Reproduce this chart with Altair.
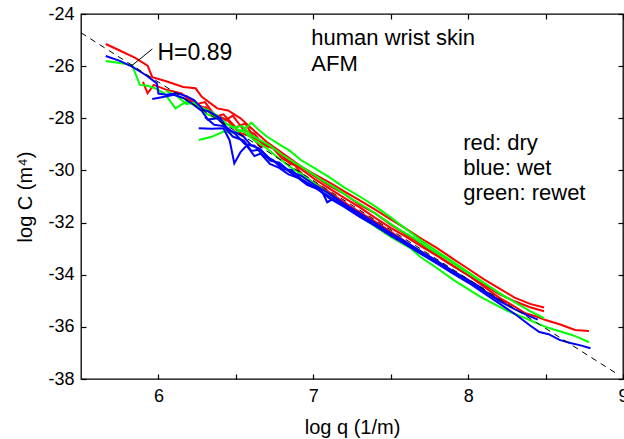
import altair as alt
import pandas as pd

# ---------------- data ----------------
R1_x = [5.66, 5.75, 5.85, 5.93, 5.96, 6.05, 6.16, 6.24, 6.28, 6.38, 6.45, 6.53, 6.6, 6.7, 6.8, 6.9, 7.0, 7.1, 7.2, 7.3, 7.4, 7.5, 7.6, 7.7, 7.8, 7.9, 8.0, 8.1, 8.2, 8.3, 8.37, 8.45, 8.5, 8.6, 8.69, 8.78]
R1_y = [-25.15, -25.40, -25.68, -25.98, -26.42, -26.58, -26.80, -26.85, -27.18, -27.62, -27.70, -28.00, -28.38, -28.91, -29.33, -29.76, -30.19, -30.57, -30.90, -31.32, -31.65, -32.08, -32.46, -32.84, -33.26, -33.64, -34.02, -34.45, -34.88, -35.22, -35.48, -35.62, -35.74, -35.92, -36.12, -36.16]

R2_x = [5.90, 5.93, 5.97, 6.05, 6.15, 6.22, 6.30, 6.36, 6.42, 6.50, 6.56, 6.62, 6.70, 6.78, 6.85, 6.92, 7.0, 7.1, 7.2, 7.3, 7.4, 7.5, 7.6, 7.7, 7.8, 7.9, 8.0, 8.1, 8.2, 8.3, 8.4, 8.49]
R2_y = [-26.60, -27.04, -26.72, -26.90, -27.05, -27.40, -27.60, -27.95, -27.85, -28.35, -28.20, -28.75, -29.05, -29.25, -29.75, -29.85, -30.12, -30.45, -30.80, -31.15, -31.50, -31.88, -32.24, -32.62, -32.98, -33.38, -33.77, -34.17, -34.52, -34.88, -35.12, -35.26]

R3_x = [6.18, 6.25, 6.30, 6.36, 6.44, 6.48, 6.55, 6.62, 6.68, 6.75, 6.82, 6.9, 7.0, 7.1, 7.2, 7.3, 7.4, 7.5, 7.6, 7.7, 7.8, 7.9, 8.0, 8.1, 8.2, 8.3, 8.4, 8.49]
R3_y = [-27.15, -27.45, -27.38, -27.85, -28.05, -27.90, -28.45, -28.60, -29.05, -29.15, -29.55, -29.85, -30.30, -30.68, -31.05, -31.42, -31.82, -32.20, -32.55, -32.92, -33.28, -33.66, -34.02, -34.38, -34.74, -35.02, -35.25, -35.40]

R4_x = [6.30, 6.38, 6.45, 6.52, 6.60, 6.66, 6.72, 6.80, 6.88, 6.95, 7.05, 7.15, 7.25, 7.35, 7.45, 7.55, 7.65, 7.75, 7.85, 7.95, 8.05, 8.15, 8.25]
R4_y = [-27.55, -27.98, -28.10, -28.55, -28.70, -29.10, -29.02, -29.55, -29.80, -30.30, -30.62, -31.02, -31.42, -31.78, -32.15, -32.55, -32.95, -33.30, -33.68, -34.05, -34.42, -34.80, -35.10]

B1_x = [5.66, 5.75, 5.83, 5.92, 5.99, 6.00, 6.05, 6.12, 6.18, 6.23, 6.29, 6.33, 6.40, 6.45, 6.50, 6.55, 6.60, 6.65, 6.72, 6.80, 6.88, 6.95, 7.02, 7.10, 7.2, 7.3, 7.4, 7.5, 7.6, 7.7, 7.8, 7.9, 8.0, 8.1, 8.2, 8.3, 8.4, 8.46, 8.52, 8.59, 8.66, 8.72, 8.79]
B1_y = [-25.61, -25.80, -26.02, -26.35, -26.66, -27.05, -27.10, -27.04, -27.15, -27.30, -27.68, -27.75, -28.00, -28.45, -28.55, -28.70, -29.05, -29.15, -29.55, -29.85, -30.20, -30.45, -30.68, -31.05, -31.40, -31.78, -32.12, -32.50, -32.85, -33.22, -33.58, -33.95, -34.30, -34.70, -35.10, -35.50, -35.95, -36.20, -36.28, -36.50, -36.62, -36.70, -36.82]

B2_x = [5.96, 6.03, 6.10, 6.16, 6.22, 6.28, 6.32, 6.38, 6.44, 6.50, 6.56, 6.62, 6.68, 6.74, 6.80, 6.86, 6.92, 7.0, 7.05, 7.09, 7.14, 7.2, 7.3, 7.4, 7.5, 7.6, 7.7, 7.8, 7.9, 8.0, 8.1, 8.2, 8.3, 8.38, 8.45]
B2_y = [-27.26, -27.18, -27.10, -27.22, -27.45, -27.72, -28.05, -28.00, -28.35, -28.62, -29.00, -29.05, -29.45, -29.60, -29.95, -29.98, -30.32, -30.60, -30.72, -31.22, -31.05, -31.30, -31.72, -32.10, -32.45, -32.85, -33.20, -33.55, -33.90, -34.25, -34.62, -35.00, -35.32, -35.55, -35.72]

B3_x = [6.26, 6.34, 6.42, 6.46, 6.49, 6.53, 6.57, 6.62, 6.66, 6.72, 6.78, 6.84, 6.9, 6.96, 7.02, 7.1, 7.2, 7.3, 7.4, 7.5, 7.6, 7.7, 7.8, 7.9, 8.0, 8.1, 8.2]
B3_y = [-28.38, -28.40, -28.38, -28.85, -29.73, -29.30, -29.05, -29.45, -29.35, -29.75, -29.90, -30.15, -30.28, -30.55, -30.70, -30.98, -31.38, -31.75, -32.12, -32.48, -32.82, -33.18, -33.52, -33.88, -34.22, -34.60, -34.98]

B4_x = [6.30, 6.36, 6.42, 6.48, 6.55, 6.60, 6.66, 6.72, 6.78, 6.85, 6.92, 7.0, 7.1, 7.2, 7.3, 7.4, 7.5, 7.6, 7.7, 7.8, 7.9, 8.0, 8.1]
B4_y = [-27.95, -28.25, -28.30, -28.70, -28.85, -29.25, -29.20, -29.62, -29.70, -30.05, -30.20, -30.52, -30.88, -31.28, -31.65, -32.02, -32.40, -32.75, -33.12, -33.48, -33.85, -34.20, -34.55]

G1_x = [5.66, 5.75, 5.83, 5.88, 5.93, 5.98, 6.04, 6.11, 6.18, 6.27, 6.33, 6.38, 6.44, 6.50, 6.56, 6.62, 6.70, 6.78, 6.86, 6.95, 7.05, 7.15, 7.25, 7.37, 7.5, 7.63, 7.69, 7.8, 7.905, 8.0, 8.08, 8.16, 8.25, 8.35, 8.42, 8.5, 8.58, 8.67, 8.73, 8.78]
G1_y = [-25.80, -25.88, -25.96, -26.72, -26.75, -26.85, -27.05, -27.62, -27.36, -27.56, -27.72, -27.90, -28.20, -28.40, -28.55, -28.85, -29.15, -29.55, -29.90, -30.25, -30.68, -31.10, -31.55, -32.03, -32.55, -32.99, -33.31, -33.75, -34.20, -34.55, -34.85, -35.10, -35.38, -35.62, -35.80, -36.00, -36.15, -36.31, -36.45, -36.59]

G2_x = [6.26, 6.34, 6.42, 6.48, 6.55, 6.60, 6.64, 6.70, 6.78, 6.85, 6.92, 7.0, 7.1, 7.2, 7.3, 7.4, 7.5, 7.6, 7.7, 7.8, 7.9, 8.0, 8.1, 8.2, 8.3, 8.4, 8.49]
G2_y = [-28.83, -28.72, -28.51, -28.55, -28.45, -28.17, -28.40, -28.70, -29.00, -29.25, -29.60, -29.88, -30.25, -30.65, -31.00, -31.38, -31.80, -32.25, -32.70, -33.10, -33.50, -33.90, -34.30, -34.70, -35.05, -35.40, -35.67]

G3_x = [6.05, 6.12, 6.18, 6.24, 6.30, 6.36, 6.42, 6.48, 6.54, 6.60, 6.66, 6.72, 6.80, 6.88, 6.95, 7.05, 7.15, 7.25, 7.35, 7.45, 7.55, 7.65, 7.75, 7.85, 7.95, 8.05, 8.15, 8.25]
G3_y = [-26.95, -27.15, -27.45, -27.40, -27.80, -27.95, -28.15, -28.35, -28.30, -28.65, -28.85, -29.05, -29.40, -29.70, -29.95, -30.35, -30.70, -31.10, -31.45, -31.85, -32.25, -32.60, -33.00, -33.35, -33.75, -34.12, -34.50, -34.90]

# H = 0.89 power-law reference line (end points)
fit_x = [5.5, 8.95]
fit_y = [-24.72, -37.76]

# leader line from label to the fit line
lead_x = [5.961, 5.826]
lead_y = [-25.34, -25.99]

# annotation texts
ann_text = ["human wrist skin", "AFM", "red: dry", "blue: wet", "green: rewet"]
ann_x = [6.987, 6.987, 7.968, 7.968, 7.968]
ann_y = [-25.19, -26.19, -29.22, -30.18, -31.14]

h_text = ["H=0.89"]
h_x = [5.994]
h_y = [-25.76]

x_ticks = [6, 6.5, 7, 7.5, 8, 8.5, 9]
y_ticks = [-38, -36, -34, -32, -30, -28, -26, -24]

series = [
    ("R1", "dry", R1_x, R1_y), ("R2", "dry", R2_x, R2_y), ("R3", "dry", R3_x, R3_y), ("R4", "dry", R4_x, R4_y),
    ("G1", "rewet", G1_x, G1_y), ("G2", "rewet", G2_x, G2_y), ("G3", "rewet", G3_x, G3_y),
    ("B1", "wet", B1_x, B1_y), ("B2", "wet", B2_x, B2_y), ("B3", "wet", B3_x, B3_y), ("B4", "wet", B4_x, B4_y),
]
rows = []
for sid, cond, xs_, ys_ in series:
    for i, (a, b) in enumerate(zip(xs_, ys_)):
        rows.append({"id": sid, "cond": cond, "i": i, "x": a, "y": b})
df = pd.DataFrame(rows)
df_fit = pd.DataFrame({"x": fit_x, "y": fit_y})
df_lead = pd.DataFrame({"x": lead_x, "y": lead_y})
df_ann = pd.DataFrame({"x": ann_x, "y": ann_y, "t": ann_text})
df_h = pd.DataFrame({"x": h_x, "y": h_y, "t": h_text})

xs = alt.Scale(domain=[5.5, 9], nice=False, zero=False)
ys = alt.Scale(domain=[-38, -24], nice=False, zero=False)

FONT = "Liberation Sans"

lines = alt.Chart(df).mark_line(strokeWidth=2).encode(
    x=alt.X("x:Q", scale=xs, axis=alt.Axis(orient="bottom", values=x_ticks, title="log q (1/m)",
                                           labelExpr="datum.value % 1 == 0 ? '' + datum.value : ''",
                                           labelFlush=False, labelPadding=8, titlePadding=12)),
    y=alt.Y("y:Q", scale=ys, axis=alt.Axis(orient="left", values=y_ticks, title="log C (m⁴)",
                                           labelExpr="'' + datum.value",
                                           labelPadding=7, titlePadding=12)),
    color=alt.Color("cond:N", scale=alt.Scale(domain=["dry", "rewet", "wet"],
                                              range=["#ff0000", "#00ff00", "#0000ff"]), legend=None),
    detail="id:N",
    order="i:Q",
)

fit = alt.Chart(df_fit).mark_line(color="black", strokeWidth=1, strokeDash=[6, 5]).encode(
    x=alt.X("x:Q", scale=xs, axis=alt.Axis(orient="top", values=x_ticks, labels=False, title=None)),
    y=alt.Y("y:Q", scale=ys, axis=alt.Axis(orient="right", values=y_ticks, labels=False, title=None)),
)

lead = alt.Chart(df_lead).mark_line(color="black", strokeWidth=1).encode(
    x=alt.X("x:Q", scale=xs, axis=None),
    y=alt.Y("y:Q", scale=ys, axis=None),
)

ann = alt.Chart(df_ann).mark_text(align="left", baseline="alphabetic", font=FONT, fontSize=22, color="black").encode(
    x=alt.X("x:Q", scale=xs, axis=None),
    y=alt.Y("y:Q", scale=ys, axis=None),
    text="t:N",
)

hlab = alt.Chart(df_h).mark_text(align="left", baseline="alphabetic", font=FONT, fontSize=23, color="black").encode(
    x=alt.X("x:Q", scale=xs, axis=None),
    y=alt.Y("y:Q", scale=ys, axis=None),
    text="t:N",
)

chart = alt.layer(lines, fit, lead, ann, hlab).resolve_axis(x="independent", y="independent").properties(
    width=542, height=365,
    padding={"left": 81, "top": 14, "right": 1, "bottom": 60},
    autosize="none",
).configure_view(stroke="black", strokeWidth=1.3).configure_axis(
    domain=False, grid=False, tickColor="black", tickSize=5, tickWidth=1.2, offset=-5,
    labelFont=FONT, labelFontSize=18, labelColor="black",
    titleFont=FONT, titleFontSize=20, titleFontWeight="normal", titleColor="black",
)

chart.save("out.html", embed_options={"renderer": "svg", "actions": False})
